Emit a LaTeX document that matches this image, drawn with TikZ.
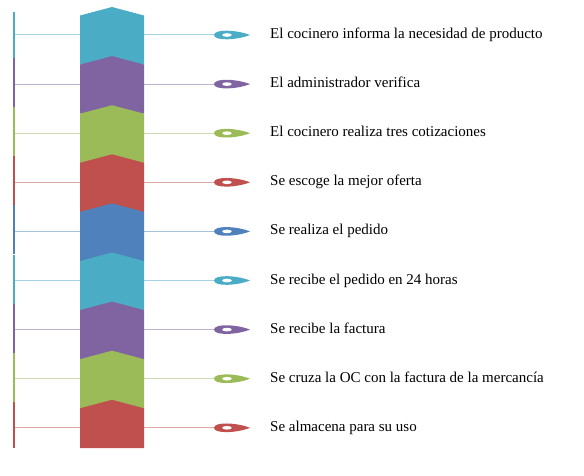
\documentclass[tikz,border=0pt]{standalone}
\usepackage{fontspec}
\setmainfont{Liberation Serif}
\definecolor{aqua}{HTML}{4BACC6}
\definecolor{lila}{HTML}{8064A2}
\definecolor{oliva}{HTML}{9BBB59}
\definecolor{rojo}{HTML}{C0504D}
\definecolor{azul}{HTML}{4F81BD}

\begin{document}
\begin{tikzpicture}[x=1pt,y=-1pt,
    etiqueta/.style={anchor=base west,inner sep=0pt,font=\fontsize{15}{18}\selectfont},
    guia/.style={line width=1pt}]
  \useasboundingbox (0,0) rectangle (584,476);
  % one step per row: line, chevron block, pin and text
  \foreach \i/\col/\txt in {0/aqua/{El cocinero informa la necesidad de producto},
      1/lila/{El administrador verifica},
      2/oliva/{El cocinero realiza tres cotizaciones},
      3/rojo/{Se escoge la mejor oferta},
      4/azul/{Se realiza el pedido},
      5/aqua/{Se recibe el pedido en 24 horas},
      6/lila/{Se recibe la factura},
      7/oliva/{Se cruza la OC con la factura de la mercancía},
      8/rojo/{Se almacena para su uso}}{
    \pgfmathsetmacro{\y}{35+49.1*\i}
    \pgfmathsetmacro{\pico}{7+49.1*\i}
    \pgfmathsetmacro{\fondo}{min(7+49.1*(\i+1)+8.5,448)}
    \pgfmathsetmacro{\arriba}{max(\y-26,12)}
    \pgfmathsetmacro{\abajo}{min(\y+23,448)}
    % left rail
    \fill[\col] (12.5,\arriba) rectangle (14.5,\abajo);
    \coordinate (izq\i) at (14.5,\y);
    \coordinate (pin\i) at (216,\y);
    \draw[guia,\col!50] (izq\i) -- (pin\i);
    % chevron block
    \fill[\col] (80,\pico+8.5) -- (112,\pico) -- (144,\pico+8.5)
      -- (144,\fondo) -- (80,\fondo) -- cycle;
    % pin
    \fill[\col] (250,\y) .. controls (236,\y-5.5) and (214,\y-6) .. (214,\y)
      .. controls (214,\y+6) and (236,\y+5.5) .. (250,\y) -- cycle;
    \fill[white] (227,\y) ellipse[x radius=4.8,y radius=1.8];
    \node[etiqueta] (paso\i) at (270,\y+3.5) {\txt};
  }
\end{tikzpicture}
\end{document}
